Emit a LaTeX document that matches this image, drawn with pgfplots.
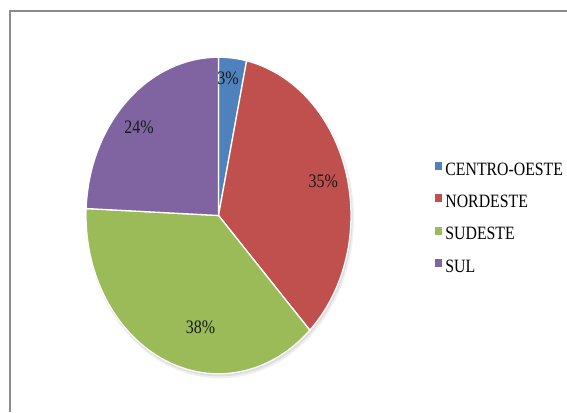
\documentclass[border=0pt]{standalone}
\usepackage{pgfplots}
\pgfplotsset{compat=1.18}
\usepackage{fontspec}
\setmainfont{Liberation Serif}
\usepackage{graphicx}
\definecolor{cCO}{HTML}{4F81BD}
\definecolor{cNE}{HTML}{C0504D}
\definecolor{cSE}{HTML}{9BBB59}
\definecolor{cSU}{HTML}{8064A2}
\definecolor{frame}{HTML}{8C8C8C}
% data (percent)
\def\vCO{3.4}
\def\vNE{34.5}
\def\vSE{37.8}
\def\vSU{24.3}
\pgfmathsetmacro\aA{90}
\pgfmathsetmacro\aB{\aA-3.6*\vCO}
\pgfmathsetmacro\aC{\aB-3.6*\vNE}
\pgfmathsetmacro\aD{\aC-3.6*\vSE}
\pgfmathsetmacro\aE{\aD-3.6*\vSU}
\def\cx{218.5}
\def\cy{196.5}
\def\rx{132.5}
\def\ry{158.3}
\newcommand{\lbl}[1]{\scalebox{1}[1.19]{#1}}
\begin{document}
\begin{tikzpicture}
\path[use as bounding box] (0,0) rectangle (567pt,412pt);
\begin{axis}[
  scale only axis, width=567pt, height=412pt,
  xmin=0, xmax=567, ymin=0, ymax=412,
  hide axis, clip=false,
  legend style={at={(axis cs:435,250)}, anchor=north west, draw=none, fill=none,
    inner sep=0pt, row sep=19pt, column sep=3.5pt,
    font=\fontsize{15.8}{18}\selectfont,
    nodes={inner sep=0pt, text height=12.5pt, text depth=0pt}},
  legend cell align=left,
  legend image code/.code={\fill[#1, draw=none] (0pt,-1pt) rectangle (6.7pt,7pt);},
]
% frame
\draw[frame, line width=2pt] (axis cs:10,0) -- (axis cs:10,401) -- (axis cs:567,401);
% shadow
\fill[black, opacity=0.06] (axis cs:\cx+1.5,\cy-3) ellipse [x radius=\rx pt+1.5pt, y radius=\ry pt+1.5pt];
\fill[black, opacity=0.08] (axis cs:\cx+1,\cy-2) ellipse [x radius=\rx pt+0.5pt, y radius=\ry pt+0.5pt];
% slices
\addplot[fill=cCO, draw=white, line width=1.3pt, domain=\aB:\aA, samples=20, variable=\t]
  ({\cx+\rx*cos(\t)},{\cy+\ry*sin(\t)}) -- (axis cs:\cx,\cy) -- cycle;
\addlegendentry{\lbl{CENTRO-OESTE}}
\addplot[fill=cNE, draw=white, line width=1.3pt, domain=\aC:\aB, samples=90, variable=\t]
  ({\cx+\rx*cos(\t)},{\cy+\ry*sin(\t)}) -- (axis cs:\cx,\cy) -- cycle;
\addlegendentry{\lbl{NORDESTE}}
\addplot[fill=cSE, draw=white, line width=1.3pt, domain=\aD:\aC, samples=90, variable=\t]
  ({\cx+\rx*cos(\t)},{\cy+\ry*sin(\t)}) -- (axis cs:\cx,\cy) -- cycle;
\addlegendentry{\lbl{SUDESTE}}
\addplot[fill=cSU, draw=white, line width=1.3pt, domain=\aE:\aD, samples=70, variable=\t]
  ({\cx+\rx*cos(\t)},{\cy+\ry*sin(\t)}) -- (axis cs:\cx,\cy) -- cycle;
\addlegendentry{\lbl{SUL}}
% labels
\begin{scope}[every node/.style={font=\fontsize{16}{18}\selectfont, text=black!90, inner sep=0pt}]
\node at (axis cs:228,334) {\lbl{3\%}};
\node at (axis cs:323.3,230.5) {\lbl{35\%}};
\node at (axis cs:200.5,85) {\lbl{38\%}};
\node at (axis cs:139,285) {\lbl{24\%}};
\end{scope}
\end{axis}
\end{tikzpicture}
\end{document}
